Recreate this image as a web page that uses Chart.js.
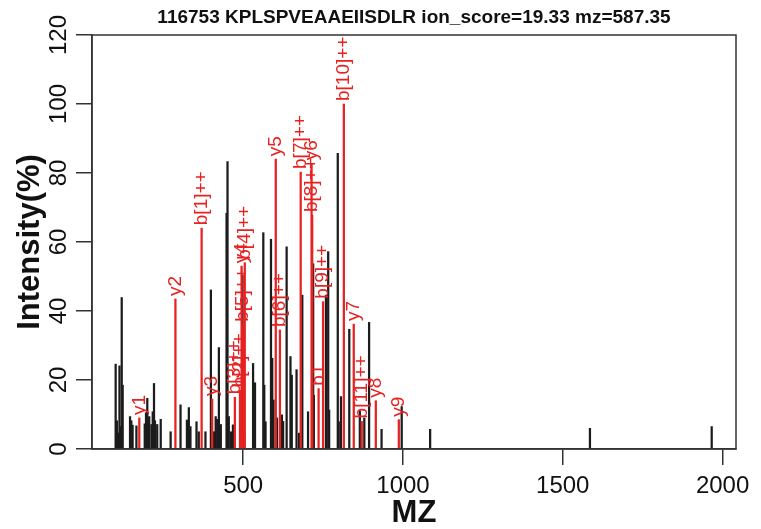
<!DOCTYPE html>
<html>
<head>
<meta charset="utf-8">
<script src="https://cdn.jsdelivr.net/npm/chart.js@4.4.1/dist/chart.umd.min.js"></script>
<style>
  html, body { margin: 0; padding: 0; background: #fff; }
  canvas { display: block; }
</style>
</head>
<body>
<canvas id="spectrum" width="761" height="529"></canvas>
<script>
// spectrum title
const titleText = '116753 KPLSPVEAAEIISDLR ion_score=19.33 mz=587.35';

// unmatched peaks (black)
const peakMz = [101, 105, 109, 113, 116, 120, 123, 146, 150, 154, 166, 192, 196, 200, 203, 206,
  213, 217, 221, 224, 231, 242, 273, 304, 324, 330, 335, 354, 361, 382, 399, 409, 414, 419, 424, 430,
  448, 451, 455, 462, 468, 498, 503, 531, 537, 563, 566, 570, 587, 591, 595, 606, 621, 625, 636, 648,
  652, 667, 675, 685, 703, 719, 721, 759, 766, 769, 796, 799, 806, 832, 865, 879, 894, 933, 996, 1085,
  1585, 1966];
const peakIntensity = [24.6, 8.2, 4.6, 24.1, 6.5, 43.9, 18.5, 9.4, 8.2, 6.9, 6.7, 7.3, 10.5, 14.7, 8.2, 9.4,
  7.1, 10.8, 19.0, 8.2, 7.1, 8.6, 5.0, 12.8, 8.4, 12.0, 6.5, 7.9, 5.0, 5.0, 46.1, 5.0, 9.4, 8.6, 29.4, 7.1,
  68.3, 83.3, 9.4, 5.0, 7.0, 50.4, 5.4, 24.8, 19.2, 62.7, 18.5, 7.9, 60.8, 26.3, 14.2, 9.0, 9.9, 8.0, 58.6, 26.8,
  21.4, 23.0, 4.6, 44.6, 10.8, 53.7, 15.6, 44.6, 57.2, 11.3, 85.7, 7.9, 15.2, 34.7, 11.0, 9.0, 36.7, 5.7, 12.3, 5.7,
  6.0, 6.5];

// matched fragment ions (red)
const ionMz = [175, 288, 370, 403, 474, 490, 495, 500, 505, 602, 615, 680, 714, 716, 736, 750, 815, 846, 871, 915, 987];
const ionIntensity = [9, 43.5, 64, 14.5, 15, 17, 53, 36, 54, 84, 34.5, 80.3, 82.8, 67.8, 17.5, 42.7, 100, 36.2, 8, 14, 8.5];
const ionLabels = ['y1', 'y2', 'b[1]++', 'y3', 'b[3]++', 'b[2]++', 'y4', 'b[5]++', 'b[4]++', 'y5', 'b[6]++',
  'b[7]++', 'y6', 'b[8]++', 'b1', 'b[9]++', 'b[10]++', 'y7', 'b[11]++', 'y8', 'y9'];

const xTicks = [500, 1000, 1500, 2000];
const yTicks = [0, 20, 40, 60, 80, 100, 120];
const xRange = [27, 2042];
const yRange = [0, 120];

const FONT = "'Liberation Sans', Arial, Helvetica, sans-serif";
const AXIS = '#333333';
const INK = '#111111';
const RED = '#e62222';

// ion names written upwards above each red peak
const ionLabelPlugin = {
  id: 'ionLabels',
  afterDatasetsDraw(chart) {
    const meta = chart.getDatasetMeta(0);
    const ctx = chart.ctx;
    ctx.save();
    ctx.fillStyle = RED;
    ctx.font = '19px ' + FONT;
    ctx.textAlign = 'left';
    ctx.textBaseline = 'middle';
    meta.data.forEach(function (bar, i) {
      ctx.save();
      ctx.translate(bar.x, bar.y - 3);
      ctx.rotate(-Math.PI / 2);
      ctx.fillText(ionLabels[i], 0, 0);
      ctx.restore();
    });
    ctx.restore();
  }
};

// box round the plot region
const boxPlugin = {
  id: 'plotBox',
  afterDraw(chart) {
    const a = chart.chartArea;
    const ctx = chart.ctx;
    ctx.save();
    ctx.strokeStyle = AXIS;
    ctx.lineWidth = 1.5;
    ctx.strokeRect(a.left, a.top, a.right - a.left, a.bottom - a.top);
    ctx.restore();
  }
};

new Chart(document.getElementById('spectrum'), {
  type: 'bar',
  data: {
    datasets: [
      {
        label: 'matched',
        data: ionMz.map((x, i) => ({ x: x, y: ionIntensity[i] })),
        backgroundColor: RED
      },
      {
        label: 'peaks',
        data: peakMz.map((x, i) => ({ x: x, y: peakIntensity[i] })),
        backgroundColor: '#1c1c1c'
      }
    ]
  },
  options: {
    responsive: false,
    animation: false,
    devicePixelRatio: 1,
    layout: { padding: { left: 0, right: 25, top: 0, bottom: 0 } },
    datasets: { bar: { barThickness: 1.6, grouped: false, borderWidth: 0 } },
    plugins: {
      legend: { display: false },
      tooltip: { enabled: false },
      title: {
        display: true,
        text: titleText,
        fullSize: false,
        color: INK,
        font: { family: FONT, size: 19, weight: 'bold', lineHeight: 1.2 },
        padding: { top: 6.6, bottom: 5.6 }
      }
    },
    scales: {
      x: {
        type: 'linear',
        min: xRange[0],
        max: xRange[1],
        offset: false,
        afterBuildTicks: s => { s.ticks = xTicks.map(v => ({ value: v })); },
        afterFit: s => { s.height = 80; },
        grid: { drawOnChartArea: false, drawTicks: true, tickLength: 16, color: AXIS, lineWidth: 1.5, offset: false },
        border: { display: true, color: AXIS, width: 1.5 },
        ticks: {
          color: INK, font: { family: FONT, size: 24 }, padding: 7, maxRotation: 0, autoSkip: false,
          callback: v => String(v)
        },
        title: {
          display: true, text: 'MZ', color: INK,
          font: { family: FONT, size: 31, weight: 'bold', lineHeight: 1 },
          padding: { top: 0, bottom: 0 }
        }
      },
      y: {
        type: 'linear',
        min: yRange[0],
        max: yRange[1],
        afterBuildTicks: s => { s.ticks = yTicks.map(v => ({ value: v })); },
        afterFit: s => { s.width = 92; },
        grid: { drawOnChartArea: false, drawTicks: true, tickLength: 16, color: AXIS, lineWidth: 1.5 },
        border: { display: true, color: AXIS, width: 1.5 },
        ticks: {
          color: INK, font: { family: FONT, size: 24 },
          minRotation: 90, maxRotation: 90, crossAlign: 'center', padding: -3, autoSkip: false,
          callback: v => String(v)
        },
        title: {
          display: true, text: 'Intensity(%)', color: INK,
          font: { family: FONT, size: 31, weight: 'bold', lineHeight: 1 },
          padding: { top: 14.5, bottom: 0 }
        }
      }
    }
  },
  plugins: [ionLabelPlugin, boxPlugin]
});
</script>
</body>
</html>
